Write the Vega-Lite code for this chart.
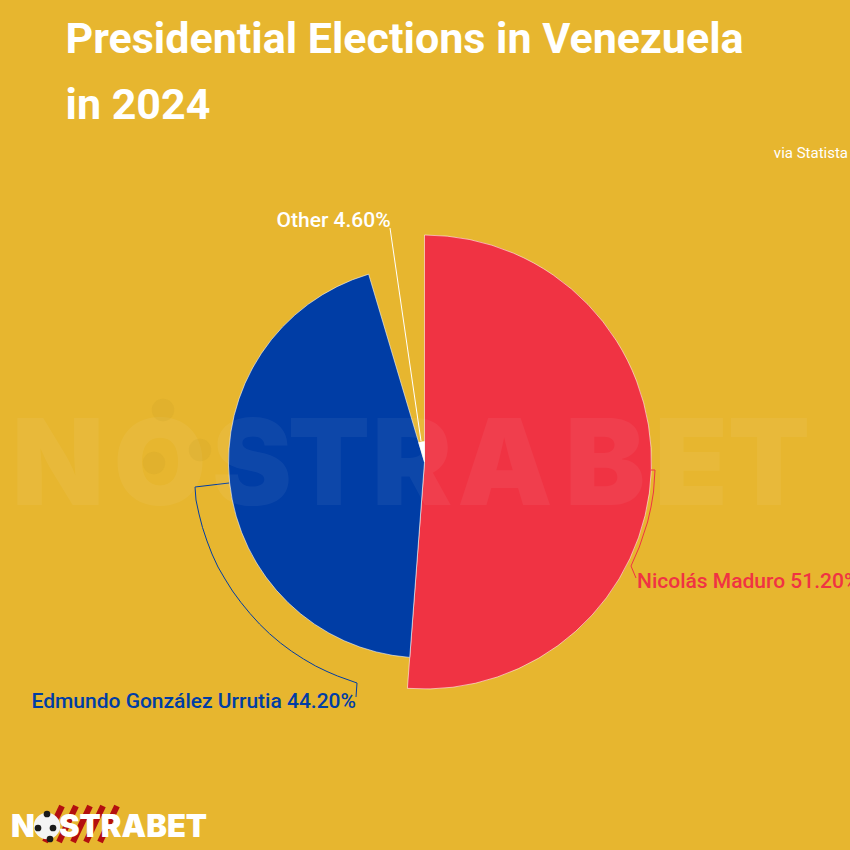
{
  "$schema": "https://vega.github.io/schema/vega-lite/v6.json",
  "width": 850,
  "height": 850,
  "padding": 0,
  "autosize": {"type": "none"},
  "background": "#E7B62F",
  "view": {"stroke": null},
  "title": {
    "text": ["Presidential Elections in Venezuela", "in 2024"],
    "anchor": "start",
    "frame": "group",
    "align": "left",
    "baseline": "top",
    "dx": 65.5,
    "dy": 132,
    "font": "Roboto",
    "fontSize": 43,
    "fontWeight": 700,
    "lineHeight": 66,
    "color": "#ffffff"
  },
  "datasets": {
    "votes": [
      {"name": "Nicolás Maduro", "share": 51.2, "rank": 1},
      {"name": "Edmundo González Urrutia", "share": 44.2, "rank": 2},
      {"name": "Other", "share": 4.6, "rank": 3}
    ],
    "labels": [
      {"name": "Nicolás Maduro", "text": "Nicolás Maduro 51.20%", "x": 213, "y": 126},
      {"name": "Edmundo González Urrutia", "text": "Edmundo González Urrutia 44.20%", "x": -392.5, "y": 246},
      {"name": "Other", "text": "Other 4.60%", "x": -147.5, "y": -235}
    ],
    "leaders": [
      {"name": "Nicolás Maduro", "n": 1, "x": 227, "y": 8},
      {"name": "Nicolás Maduro", "n": 2, "x": 231, "y": 8},
      {"name": "Nicolás Maduro", "n": 3, "x": 229.5, "y": 30},
      {"name": "Nicolás Maduro", "n": 4, "x": 227, "y": 45},
      {"name": "Nicolás Maduro", "n": 5, "x": 223.6, "y": 60},
      {"name": "Nicolás Maduro", "n": 6, "x": 215.3, "y": 85},
      {"name": "Nicolás Maduro", "n": 7, "x": 207, "y": 104},
      {"name": "Nicolás Maduro", "n": 8, "x": 212, "y": 116},
      {"name": "Edmundo González Urrutia", "n": 1, "x": -195, "y": 21},
      {"name": "Edmundo González Urrutia", "n": 2, "x": -229, "y": 25},
      {"name": "Edmundo González Urrutia", "n": 3, "x": -228, "y": 38},
      {"name": "Edmundo González Urrutia", "n": 4, "x": -225, "y": 52},
      {"name": "Edmundo González Urrutia", "n": 5, "x": -221.5, "y": 65.5},
      {"name": "Edmundo González Urrutia", "n": 6, "x": -217, "y": 79},
      {"name": "Edmundo González Urrutia", "n": 7, "x": -212, "y": 92},
      {"name": "Edmundo González Urrutia", "n": 8, "x": -206, "y": 105},
      {"name": "Edmundo González Urrutia", "n": 9, "x": -199, "y": 117},
      {"name": "Edmundo González Urrutia", "n": 10, "x": -191.5, "y": 129},
      {"name": "Edmundo González Urrutia", "n": 11, "x": -183, "y": 140.5},
      {"name": "Edmundo González Urrutia", "n": 12, "x": -174, "y": 151.5},
      {"name": "Edmundo González Urrutia", "n": 13, "x": -164.5, "y": 162},
      {"name": "Edmundo González Urrutia", "n": 14, "x": -154.5, "y": 171.7},
      {"name": "Edmundo González Urrutia", "n": 15, "x": -143.5, "y": 181},
      {"name": "Edmundo González Urrutia", "n": 16, "x": -132.5, "y": 189.2},
      {"name": "Edmundo González Urrutia", "n": 17, "x": -120.5, "y": 197},
      {"name": "Edmundo González Urrutia", "n": 18, "x": -108.4, "y": 204},
      {"name": "Edmundo González Urrutia", "n": 19, "x": -97, "y": 209.5},
      {"name": "Edmundo González Urrutia", "n": 20, "x": -86.5, "y": 214},
      {"name": "Edmundo González Urrutia", "n": 21, "x": -67, "y": 221},
      {"name": "Edmundo González Urrutia", "n": 22, "x": -68, "y": 235},
      {"name": "Other", "n": 1, "x": -3, "y": -21},
      {"name": "Other", "n": 2, "x": -34, "y": -234}
    ],
    "watermark": [
      {"letter": "N", "x": -366, "y": 43},
      {"letter": "O", "x": -264, "y": 43},
      {"letter": "S", "x": -172, "y": 43},
      {"letter": "T", "x": -95, "y": 43},
      {"letter": "R", "x": -12, "y": 43},
      {"letter": "A", "x": 81, "y": 43},
      {"letter": "B", "x": 181, "y": 43},
      {"letter": "E", "x": 267, "y": 43},
      {"letter": "T", "x": 345, "y": 43}
    ],
    "stripes": [
      {"x": -362, "y": 344, "x2": -379, "y2": 380},
      {"x": -348, "y": 344, "x2": -365, "y2": 380},
      {"x": -334, "y": 344, "x2": -351, "y2": 380},
      {"x": -321, "y": 344, "x2": -338, "y2": 380},
      {"x": -307, "y": 344, "x2": -324, "y2": 380}
    ],
    "ballSpots": [
      {"x": -377, "y": 352},
      {"x": -371, "y": 366},
      {"x": -386, "y": 366},
      {"x": -374, "y": 377}
    ],
    "ghostSpots": [
      {"x": -261, "y": -52},
      {"x": -270, "y": 1},
      {"x": -224, "y": -12}
    ]
  },
  "encoding": {
    "color": {
      "field": "name",
      "type": "nominal",
      "legend": null,
      "scale": {
        "domain": ["Nicolás Maduro", "Edmundo González Urrutia", "Other"],
        "range": ["#F03343", "#003DA5", "#ffffff"]
      }
    }
  },
  "layer": [
    {
      "data": {"name": "votes"},
      "mark": {"type": "arc", "xOffset": -0.5, "yOffset": 37, "stroke": "#ffffff", "strokeWidth": 0.8, "strokeOpacity": 0.7},
      "encoding": {
        "theta": {"field": "share", "type": "quantitative", "stack": true},
        "radius": {"field": "share", "type": "quantitative", "scale": {"domain": [0, 51.2], "range": [0, 227]}},
        "order": {"field": "rank", "type": "ordinal"}
      }
    },
    {
      "encoding": {
        "x": {"field": "x", "type": "quantitative", "scale": {"domain": [-424, 426]}, "axis": null},
        "y": {"field": "y", "type": "quantitative", "scale": {"domain": [388, -462]}, "axis": null}
      },
      "layer": [
        {
          "data": {"name": "leaders"},
          "mark": {"type": "line", "strokeWidth": 1},
          "encoding": {"order": {"field": "n", "type": "quantitative"}}
        },
        {
          "data": {"name": "labels"},
          "mark": {"type": "text", "align": "left", "baseline": "alphabetic", "font": "Roboto", "fontSize": 21, "fontWeight": 500},
          "encoding": {"text": {"field": "text"}}
        },
        {
          "data": {"values": [{"text": "via Statista", "x": 424, "y": -304}]},
          "mark": {"type": "text", "align": "right", "baseline": "alphabetic", "font": "Roboto", "fontSize": 15, "fontWeight": 400},
          "encoding": {"text": {"field": "text"}, "color": {"value": "#ffffff"}}
        },
        {
          "data": {"name": "watermark"},
          "mark": {"type": "text", "align": "center", "baseline": "alphabetic", "font": "Inter", "fontSize": 120, "fontWeight": 900},
          "encoding": {"text": {"field": "letter"}, "color": {"value": "#ffffff"}, "opacity": {"value": 0.05}}
        },
        {
          "data": {"name": "ghostSpots"},
          "mark": {"type": "point", "shape": "circle", "filled": true, "size": 500},
          "encoding": {"color": {"value": "#B8901E"}, "opacity": {"value": 0.12}}
        },
        {
          "data": {"name": "stripes"},
          "mark": {"type": "rule", "strokeWidth": 6},
          "encoding": {
            "x2": {"field": "x2"},
            "y2": {"field": "y2"},
            "color": {"value": "#B30F0F"}
          }
        },
        {
          "data": {"values": [{"text": "NOSTRABET", "x": -413, "y": 375}]},
          "mark": {"type": "text", "align": "left", "baseline": "alphabetic", "font": "Inter", "fontSize": 31, "fontWeight": 900},
          "encoding": {"text": {"field": "text"}, "color": {"value": "#ffffff"}}
        },
        {
          "data": {"values": [{"x": -377, "y": 364}]},
          "mark": {"type": "point", "shape": "circle", "filled": true, "size": 700},
          "encoding": {"color": {"value": "#f4f4f4"}, "opacity": {"value": 1}}
        },
        {
          "data": {"name": "ballSpots"},
          "mark": {"type": "point", "shape": "circle", "filled": true, "size": 45},
          "encoding": {"color": {"value": "#1a1a1a"}, "opacity": {"value": 1}}
        }
      ]
    }
  ]
}
